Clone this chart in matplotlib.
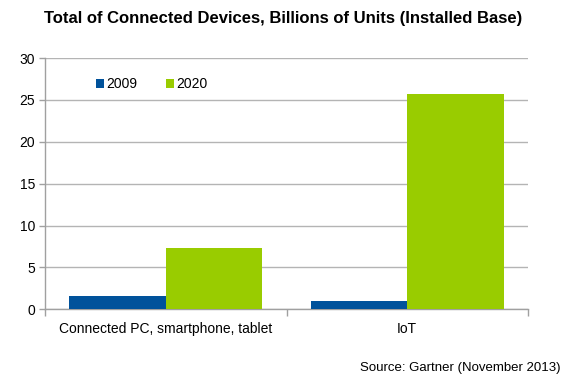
import matplotlib
matplotlib.use("Agg")
import matplotlib.pyplot as plt
import numpy as np

plt.rcParams['font.family'] = ['Liberation Sans', 'DejaVu Sans']

categories = ["Connected PC, smartphone, tablet", "IoT"]
series_names = ["2009", "2020"]
values_2009 = [1.55, 0.95]
values_2020 = [7.3, 25.75]
yticks = [0, 5, 10, 15, 20, 25, 30]

colors = ["#00529b", "#99cc00"]

fig = plt.figure(figsize=(5.66, 3.79), dpi=100)
ax = fig.add_axes([45/566, 1-309.3/379, (528-45)/566, (309.3-58)/379])

x = np.arange(len(categories))
w = 0.4
ax.bar(x - w/2, values_2009, width=w, color=colors[0], label=series_names[0], zorder=3)
ax.bar(x + w/2, values_2020, width=w, color=colors[1], label=series_names[1], zorder=3)

ax.set_xlim(-0.5, len(categories) - 0.5)
ax.set_ylim(0, 30)
ax.set_yticks(yticks)
ax.set_yticklabels([str(t) for t in yticks], fontsize=10)
ax.yaxis.grid(True, color="#b4b4b4", linewidth=1.0, zorder=0)
ax.set_axisbelow(True)

ax.set_xticks(x)
ax.set_xticklabels(categories, fontsize=10)
ax.tick_params(axis='x', length=0, pad=9)
ax.set_xticks(np.arange(-0.5, len(categories)), minor=True)
ax.tick_params(axis='x', which='minor', length=5, color="#a0a0a0", width=1)
ax.tick_params(axis='y', length=4, color="#a0a0a0", width=1, pad=3)

for s in ["top", "right"]:
    ax.spines[s].set_visible(False)
for s in ["left", "bottom"]:
    ax.spines[s].set_color("#a0a0a0")
    ax.spines[s].set_linewidth(1)

leg = ax.legend(loc="upper left", bbox_to_anchor=(0.095, 0.945), ncol=2, frameon=False,
                fontsize=10, handlelength=0.55, handleheight=0.55, handletextpad=0.15,
                columnspacing=2.1, borderaxespad=0)

fig.text(283/566, 1-19/379, "Total of Connected Devices, Billions of Units (Installed Base)",
         ha="center", va="center", fontsize=12, fontweight="bold")
fig.text(560/566, 1-367.5/379, "Source: Gartner (November 2013)", ha="right", va="center",
         fontsize=9.5)

fig.savefig("out.png", dpi=100)
